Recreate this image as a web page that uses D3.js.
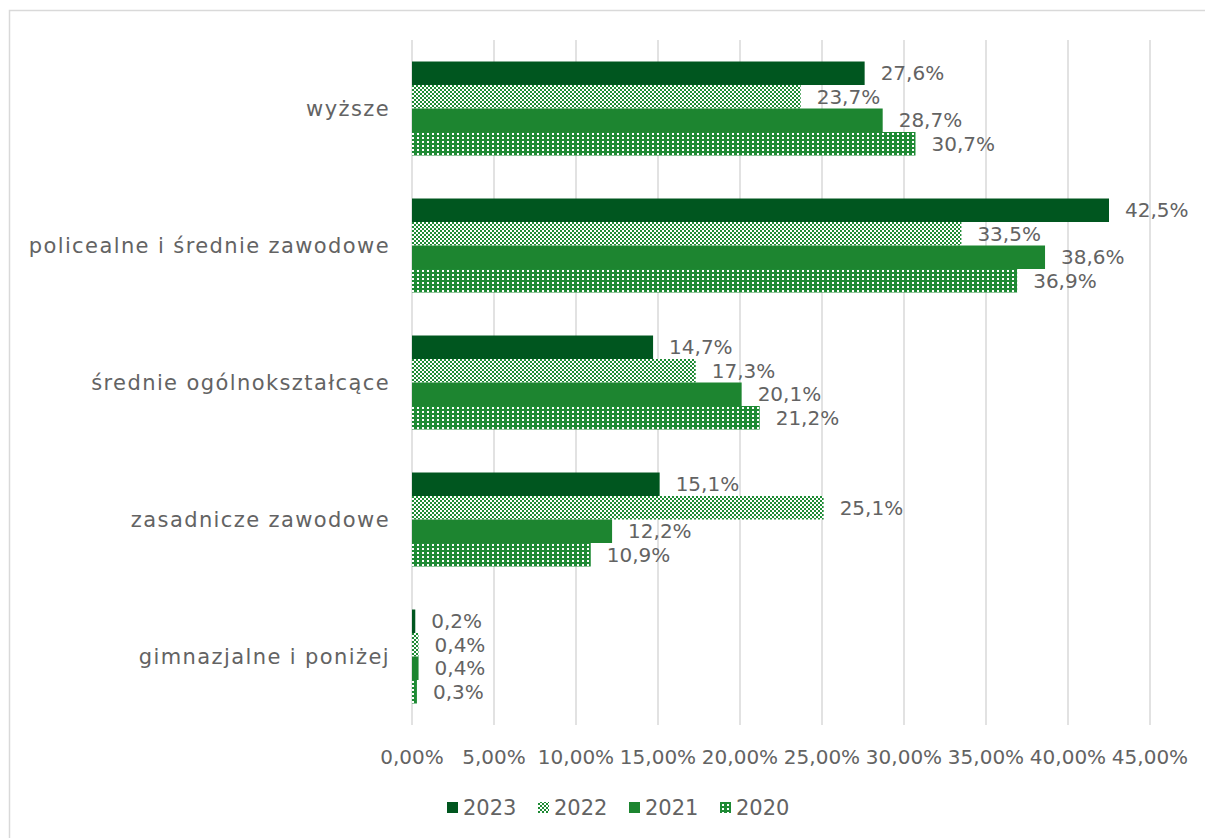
<!DOCTYPE html>
<html>
<head>
<meta charset="utf-8">
<script src="https://cdn.jsdelivr.net/npm/d3@7"></script>
<style>
body { margin:0; background:#fff; }
text { font-family:"DejaVu Sans", sans-serif; fill:#636363; }
</style>
</head>
<body>
<script>
var categories = ["wyższe", "policealne i średnie zawodowe", "średnie ogólnokształcące", "zasadnicze zawodowe", "gimnazjalne i poniżej"];
var years = ["2023", "2022", "2021", "2020"];
var v2023 = [27.6, 42.5, 14.7, 15.1, 0.2];
var v2022 = [23.7, 33.5, 17.3, 25.1, 0.4];
var v2021 = [28.7, 38.6, 20.1, 12.2, 0.4];
var v2020 = [30.7, 36.9, 21.2, 10.9, 0.3];
var ticks = [0, 5, 10, 15, 20, 25, 30, 35, 40, 45];

var series = [v2023, v2022, v2021, v2020];

var svg = d3.select("body")
	.append("svg")
	.attr("width", 1205)
	.attr("height", 838);

// patterns for 2022 and 2020
var defs = svg.append("defs");
var p1 = defs.append("pattern").attr("id", "p2022")
	.attr("patternUnits", "userSpaceOnUse").attr("width", 4).attr("height", 4);
p1.append("rect").attr("width", 4).attr("height", 4).attr("fill", "#fff");
p1.append("rect").attr("width", 2).attr("height", 2).attr("fill", "#1e8a34");
p1.append("rect").attr("x", 2).attr("y", 2).attr("width", 2).attr("height", 2).attr("fill", "#1e8a34");

var p2 = defs.append("pattern").attr("id", "p2020")
	.attr("patternUnits", "userSpaceOnUse").attr("width", 5).attr("height", 4);
p2.append("rect").attr("width", 5).attr("height", 4).attr("fill", "#1e8a34");
p2.append("rect").attr("x", 2).attr("y", 1).attr("width", 2).attr("height", 2).attr("fill", "#fff");

var fills = ["#00561f", "url(#p2022)", "#1d8530", "url(#p2020)"];

// outer border
svg.append("rect")
	.attr("x", 9.5).attr("y", 10.5)
	.attr("width", 1220).attr("height", 840)
	.attr("fill", "none").attr("stroke", "#d9d9d9").attr("stroke-width", 1.5);

var x = d3.scaleLinear().domain([0, 45]).range([412, 1150]);
var y = d3.scaleBand().domain(categories).range([40, 725])
	.paddingInner(0.314).paddingOuter(0.157);
var yy = d3.scaleBand().domain(years).range([0, y.bandwidth()]);

// gridlines
svg.append("g").selectAll("line").data(ticks)
	.enter().append("line")
	.attr("x1", function(d){ return x(d); })
	.attr("x2", function(d){ return x(d); })
	.attr("y1", 40).attr("y2", 725)
	.attr("stroke", "#d9d9d9").attr("stroke-width", 1.5);

// tick labels
svg.append("g").selectAll("text").data(ticks)
	.enter().append("text")
	.attr("x", function(d){ return x(d); })
	.attr("y", 764)
	.attr("text-anchor", "middle")
	.style("font-size", "20px")
	.text(function(d){ return d.toFixed(2).replace(".", ",") + "%"; });

// category labels
svg.append("g").selectAll("text").data(categories)
	.enter().append("text")
	.attr("x", 390)
	.attr("y", function(d){ return y(d) + y.bandwidth() / 2; })
	.attr("dy", "0.35em")
	.attr("text-anchor", "end")
	.style("font-size", "21px")
	.style("letter-spacing", "1.4px")
	.text(function(d){ return d; });

var rows = [];
series.forEach(function(s, i){
	s.forEach(function(v, j){
		rows.push({ year: years[i], cat: categories[j], value: v, si: i });
	});
});

var bars = svg.append("g").selectAll("g").data(rows)
	.enter().append("g")
	.attr("transform", function(d){ return "translate(0," + (y(d.cat) + yy(d.year)) + ")"; });

bars.append("rect")
	.attr("x", x(0))
	.attr("width", function(d){ return x(d.value) - x(0); })
	.attr("height", yy.bandwidth())
	.attr("fill", function(d){ return fills[d.si]; });

bars.append("text")
	.attr("x", function(d){ return x(d.value) + 16; })
	.attr("y", yy.bandwidth() / 2)
	.attr("dy", "0.36em")
	.style("font-size", "20px")
	.text(function(d){ return d.value.toFixed(1).replace(".", ",") + "%"; });

// legend
var legend = svg.append("g").selectAll("g").data(years)
	.enter().append("g")
	.attr("transform", function(d, i){ return "translate(" + (447 + i * 91) + ",807)"; });
legend.append("rect")
	.attr("y", -5).attr("width", 11).attr("height", 11)
	.attr("fill", function(d, i){ return fills[i]; });
legend.append("text")
	.attr("x", 16).attr("dy", "0.36em")
	.style("font-size", "21px")
	.text(function(d){ return d; });
</script>
</body>
</html>
